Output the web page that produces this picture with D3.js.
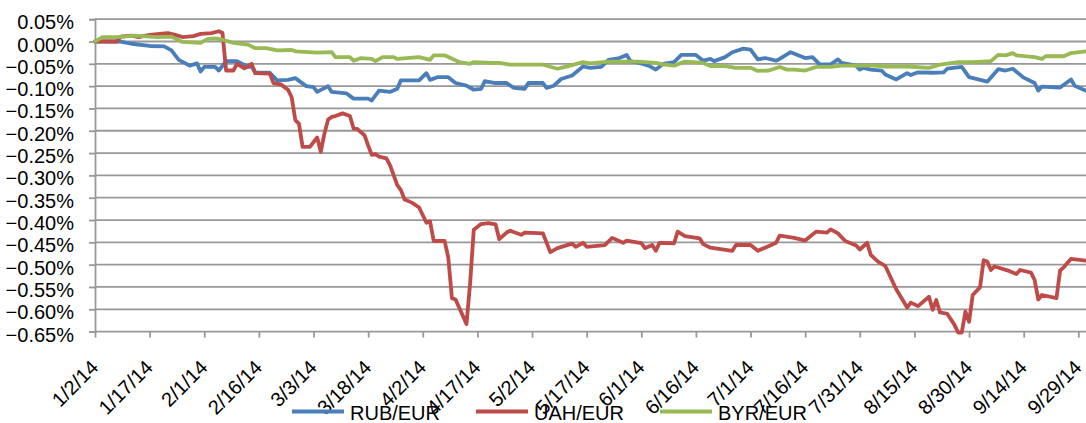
<!DOCTYPE html>
<html>
<head>
<meta charset="utf-8">
<script src="https://cdn.jsdelivr.net/npm/d3@7"></script>
<style>
body { margin: 0; background: #fff; }
text { font-family: "Liberation Sans", Arial, sans-serif; }
</style>
</head>
<body>
<div id="chart"></div>
<script>
var width = 1086,
height = 423

// x tick labels (every 15 days) and y ticks (percent)
var xTicks = ["1/2/14","1/17/14","2/1/14","2/16/14","3/3/14","3/18/14","4/2/14","4/17/14","5/2/14",
  "5/17/14","6/1/14","6/16/14","7/1/14","7/16/14","7/31/14","8/15/14","8/30/14","9/14/14","9/29/14"]
var yTicks = [0.05,0,-0.05,-0.1,-0.15,-0.2,-0.25,-0.3,-0.35,-0.4,-0.45,-0.5,-0.55,-0.6,-0.65]
var seriesNames = ["RUB/EUR","UAH/EUR","BYR/EUR"]

// values, % change vs start
var rub = [
  ["1/2/14",0],["1/9/14",0],["1/12/14",-0.005],["1/17/14",-0.010],["1/21/14",-0.011],["1/23/14",-0.020],
  ["1/25/14",-0.041],["1/28/14",-0.054],["1/30/14",-0.049],["1/31/14",-0.067],["2/1/14",-0.057],["2/4/14",-0.057],
  ["2/5/14",-0.065],["2/7/14",-0.044],["2/10/14",-0.044],["2/13/14",-0.057],["2/14/14",-0.056],["2/15/14",-0.069],
  ["2/19/14",-0.070],["2/21/14",-0.087],["2/24/14",-0.086],["2/26/14",-0.082],["3/1/14",-0.100],["3/3/14",-0.102],
  ["3/4/14",-0.113],["3/7/14",-0.100],["3/8/14",-0.113],["3/12/14",-0.116],["3/14/14",-0.128],["3/18/14",-0.128],
  ["3/19/14",-0.132],["3/21/14",-0.110],["3/24/14",-0.113],["3/26/14",-0.106],["3/27/14",-0.087],["4/1/14",-0.087],
  ["4/3/14",-0.071],["4/4/14",-0.086],["4/6/14",-0.080],["4/9/14",-0.080],["4/11/14",-0.093],["4/14/14",-0.099],
  ["4/16/14",-0.108],["4/18/14",-0.106],["4/19/14",-0.089],["4/22/14",-0.093],["4/25/14",-0.093],["4/27/14",-0.104],
  ["4/30/14",-0.106],["5/1/14",-0.093],["5/5/14",-0.093],["5/6/14",-0.104],["5/8/14",-0.099],["5/10/14",-0.084],
  ["5/13/14",-0.076],["5/16/14",-0.056],["5/18/14",-0.059],["5/21/14",-0.057],["5/23/14",-0.041],["5/26/14",-0.037],
  ["5/28/14",-0.030],["5/29/14",-0.044],["6/1/14",-0.049],["6/3/14",-0.054],["6/5/14",-0.063],["6/7/14",-0.050],
  ["6/10/14",-0.046],["6/12/14",-0.030],["6/16/14",-0.030],["6/18/14",-0.043],["6/20/14",-0.039],["6/21/14",-0.044],
  ["6/24/14",-0.035],["6/26/14",-0.024],["6/29/14",-0.016],["7/1/14",-0.018],["7/3/14",-0.040],["7/5/14",-0.037],
  ["7/8/14",-0.043],["7/9/14",-0.039],["7/12/14",-0.024],["7/16/14",-0.037],["7/18/14",-0.035],["7/20/14",-0.051],
  ["7/23/14",-0.051],["7/25/14",-0.040],["7/26/14",-0.048],["7/30/14",-0.054],["7/31/14",-0.063],["8/1/14",-0.059],
  ["8/3/14",-0.063],["8/6/14",-0.065],["8/7/14",-0.074],["8/10/14",-0.085],["8/13/14",-0.071],["8/14/14",-0.075],
  ["8/16/14",-0.069],["8/20/14",-0.070],["8/23/14",-0.069],["8/24/14",-0.061],["8/28/14",-0.057],["8/30/14",-0.080],
  ["9/4/14",-0.090],["9/7/14",-0.062],["9/9/14",-0.065],["9/11/14",-0.061],["9/14/14",-0.081],["9/17/14",-0.093],
  ["9/18/14",-0.110],["9/19/14",-0.101],["9/24/14",-0.103],["9/27/14",-0.085],["9/28/14",-0.099],["10/1/14",-0.110]
]
var uah = [
  ["1/2/14",0],["1/8/14",0],["1/9/14",0.011],["1/12/14",0.013],["1/14/14",0.010],["1/17/14",0.015],["1/22/14",0.019],
  ["1/24/14",0.015],["1/26/14",0.010],["1/29/14",0.012],["1/31/14",0.017],["2/3/14",0.019],["2/5/14",0.023],["2/6/14",0.019],
  ["2/7/14",-0.065],["2/9/14",-0.065],["2/10/14",-0.050],["2/12/14",-0.060],["2/14/14",-0.050],["2/15/14",-0.071],
  ["2/19/14",-0.072],["2/20/14",-0.093],["2/22/14",-0.096],["2/24/14",-0.108],["2/25/14",-0.125],["2/26/14",-0.176],
  ["2/27/14",-0.184],["2/28/14",-0.236],["3/2/14",-0.236],["3/4/14",-0.215],["3/5/14",-0.247],["3/6/14",-0.206],
  ["3/7/14",-0.175],["3/8/14",-0.169],["3/9/14",-0.167],["3/11/14",-0.161],["3/13/14",-0.167],["3/14/14",-0.195],
  ["3/15/14",-0.196],["3/17/14",-0.210],["3/18/14",-0.233],["3/19/14",-0.254],["3/20/14",-0.252],["3/21/14",-0.258],
  ["3/23/14",-0.262],["3/24/14",-0.277],["3/26/14",-0.322],["3/27/14",-0.333],["3/28/14",-0.354],["3/30/14",-0.361],
  ["4/1/14",-0.372],["4/3/14",-0.406],["4/4/14",-0.403],["4/5/14",-0.447],["4/8/14",-0.447],["4/9/14",-0.484],
  ["4/10/14",-0.575],["4/11/14",-0.578],["4/14/14",-0.633],["4/15/14",-0.542],["4/16/14",-0.422],["4/18/14",-0.409],
  ["4/20/14",-0.407],["4/22/14",-0.410],["4/23/14",-0.443],["4/25/14",-0.428],["4/26/14",-0.424],["4/29/14",-0.433],
  ["4/30/14",-0.428],["5/5/14",-0.430],["5/7/14",-0.472],["5/9/14",-0.463],["5/13/14",-0.453],["5/14/14",-0.460],
  ["5/16/14",-0.451],["5/17/14",-0.460],["5/22/14",-0.456],["5/24/14",-0.440],["5/27/14",-0.451],["5/28/14",-0.446],
  ["6/1/14",-0.452],["6/2/14",-0.463],["6/4/14",-0.456],["6/5/14",-0.469],["6/6/14",-0.451],["6/10/14",-0.452],
  ["6/11/14",-0.426],["6/13/14",-0.436],["6/17/14",-0.441],["6/18/14",-0.454],["6/20/14",-0.462],["6/26/14",-0.469],
  ["6/27/14",-0.456],["7/1/14",-0.456],["7/3/14",-0.469],["7/5/14",-0.462],["7/8/14",-0.451],["7/9/14",-0.435],
  ["7/13/14",-0.440],["7/16/14",-0.446],["7/19/14",-0.426],["7/22/14",-0.428],["7/23/14",-0.421],["7/25/14",-0.430],
  ["7/27/14",-0.447],["7/30/14",-0.457],["7/31/14",-0.466],["8/2/14",-0.451],["8/3/14",-0.478],["8/5/14",-0.493],
  ["8/7/14",-0.503],["8/10/14",-0.555],["8/13/14",-0.596],["8/14/14",-0.585],["8/16/14",-0.593],["8/19/14",-0.572],
  ["8/20/14",-0.601],["8/21/14",-0.579],["8/22/14",-0.607],["8/24/14",-0.610],["8/26/14",-0.635],["8/27/14",-0.652],
  ["8/28/14",-0.652],["8/29/14",-0.605],["8/30/14",-0.628],["8/31/14",-0.568],["9/2/14",-0.551],["9/3/14",-0.490],
  ["9/4/14",-0.493],["9/5/14",-0.512],["9/6/14",-0.504],["9/10/14",-0.514],["9/12/14",-0.521],["9/13/14",-0.512],
  ["9/16/14",-0.518],["9/17/14",-0.534],["9/18/14",-0.578],["9/19/14",-0.568],["9/23/14",-0.575],["9/24/14",-0.513],
  ["9/25/14",-0.506],["9/27/14",-0.487],["10/1/14",-0.491]
]
var byr = [
  ["1/2/14",0],["1/4/14",0.010],["1/8/14",0.010],["1/13/14",0.013],["1/19/14",0.010],["1/23/14",0.011],["1/26/14",-0.001],
  ["1/31/14",-0.003],["2/2/14",0.006],["2/4/14",0.007],["2/6/14",0.004],["2/9/14",-0.003],["2/13/14",-0.007],
  ["2/15/14",-0.015],["2/18/14",-0.015],["2/21/14",-0.020],["2/25/14",-0.019],["2/26/14",-0.022],["3/4/14",-0.025],
  ["3/8/14",-0.024],["3/9/14",-0.035],["3/13/14",-0.035],["3/14/14",-0.043],["3/16/14",-0.037],["3/19/14",-0.039],
  ["3/20/14",-0.044],["3/22/14",-0.035],["3/25/14",-0.035],["3/26/14",-0.039],["4/1/14",-0.035],["4/4/14",-0.041],
  ["4/5/14",-0.031],["4/8/14",-0.031],["4/12/14",-0.046],["4/15/14",-0.050],["4/16/14",-0.046],["4/21/14",-0.048],
  ["4/23/14",-0.048],["4/26/14",-0.052],["5/5/14",-0.052],["5/9/14",-0.061],["5/12/14",-0.055],["5/16/14",-0.046],
  ["5/18/14",-0.049],["5/23/14",-0.045],["5/31/14",-0.045],["6/5/14",-0.048],["6/7/14",-0.051],["6/10/14",-0.054],
  ["6/13/14",-0.045],["6/18/14",-0.048],["6/20/14",-0.055],["6/24/14",-0.055],["6/27/14",-0.059],["7/1/14",-0.059],
  ["7/3/14",-0.066],["7/6/14",-0.065],["7/9/14",-0.057],["7/11/14",-0.063],["7/13/14",-0.063],["7/16/14",-0.065],
  ["7/19/14",-0.057],["7/23/14",-0.057],["7/26/14",-0.054],["8/4/14",-0.054],["8/7/14",-0.056],["8/13/14",-0.056],
  ["8/19/14",-0.059],["8/22/14",-0.052],["8/27/14",-0.046],["8/31/14",-0.046],["9/5/14",-0.044],["9/7/14",-0.030],
  ["9/9/14",-0.031],["9/11/14",-0.026],["9/12/14",-0.031],["9/17/14",-0.035],["9/19/14",-0.039],["9/20/14",-0.033],
  ["9/25/14",-0.033],["9/27/14",-0.026],["10/1/14",-0.022]
]
var colors = ["#4A7EBB","#BE4B48","#98B954"]

var parse = d3.timeParse("%m/%d/%y")

var svg = d3.select("#chart")
  .append("svg")
  .attr("width", width)
  .attr("height", height)

var x = d3.scaleTime()
  .domain([parse("1/2/14"), parse("10/1/14")])
  .range([95, 1085.6])

var y = d3.scaleLinear()
  .domain([-0.65, 0.05])
  .range([331.6, 19.2])

// gridlines
svg.append("g")
  .selectAll("line")
  .data(yTicks)
  .enter().append("line")
    .attr("x1", 95)
    .attr("x2", width)
    .attr("y1", function(d) { return y(d) })
    .attr("y2", function(d) { return y(d) })
    .attr("stroke", "#989898")
    .attr("stroke-width", 1.8)

// y axis
var yAxis = d3.axisLeft(y)
  .tickValues(yTicks)
  .tickSize(6)
  .tickFormat(function(d) { return d3.format(".2f")(d) + "%" })

var gy = svg.append("g")
  .attr("transform", "translate(95,0)")
  .call(yAxis)
gy.select(".domain").attr("stroke", "#989898").attr("stroke-width", 1.8)
gy.selectAll(".tick line").attr("stroke", "#989898").attr("stroke-width", 1.8)
gy.selectAll(".tick text")
  .attr("x", -21)
  .attr("dy", 9.5)
  .attr("fill", "#000")
  .style("font-size", "20px")
  .style("font-family", "Liberation Sans, Arial, sans-serif")
  .text(function(d) { return (d === 0 ? "0.00" : d3.format(".2f")(d)) + "%" })

// x axis
var xAxis = d3.axisBottom(x)
  .tickValues(xTicks.map(parse))
  .tickSize(6)
  .tickFormat(d3.timeFormat("%-m/%-d/%y"))

var gx = svg.append("g")
  .attr("transform", "translate(0," + y(-0.65) + ")")
  .call(xAxis)
gx.select(".domain").remove()
gx.selectAll(".tick line").attr("stroke", "#989898").attr("stroke-width", 1.8)
gx.selectAll(".tick text")
  .attr("y", 0)
  .attr("dy", 0)
  .attr("transform", "translate(4,37) rotate(-45)")
  .attr("text-anchor", "end")
  .attr("fill", "#000")
  .style("font-size", "20px")
  .style("font-family", "Liberation Sans, Arial, sans-serif")

// lines
var line = d3.line()
  .x(function(d) { return x(parse(d[0])) })
  .y(function(d) { return y(d[1]) })

;[rub, uah, byr].forEach(function(s, i) {
  svg.append("path")
    .datum(s)
    .attr("fill", "none")
    .attr("stroke", colors[i])
    .attr("stroke-width", 3.8)
    .attr("stroke-linejoin", "round")
    .attr("stroke-linecap", "round")
    .attr("d", line)
})

// legend
var legend = svg.append("g")
  .selectAll("g")
  .data(seriesNames)
  .enter().append("g")
    .attr("transform", function(d, i) { return "translate(" + (292 + i * 184) + ",411.5)" })

legend.append("line")
  .attr("x1", 0)
  .attr("x2", 52)
  .attr("stroke", function(d, i) { return colors[i] })
  .attr("stroke-width", 3.8)

legend.append("text")
  .attr("x", 58)
  .attr("y", 8)
  .style("font-size", "20px")
  .text(function(d) { return d })
</script>
</body>
</html>
